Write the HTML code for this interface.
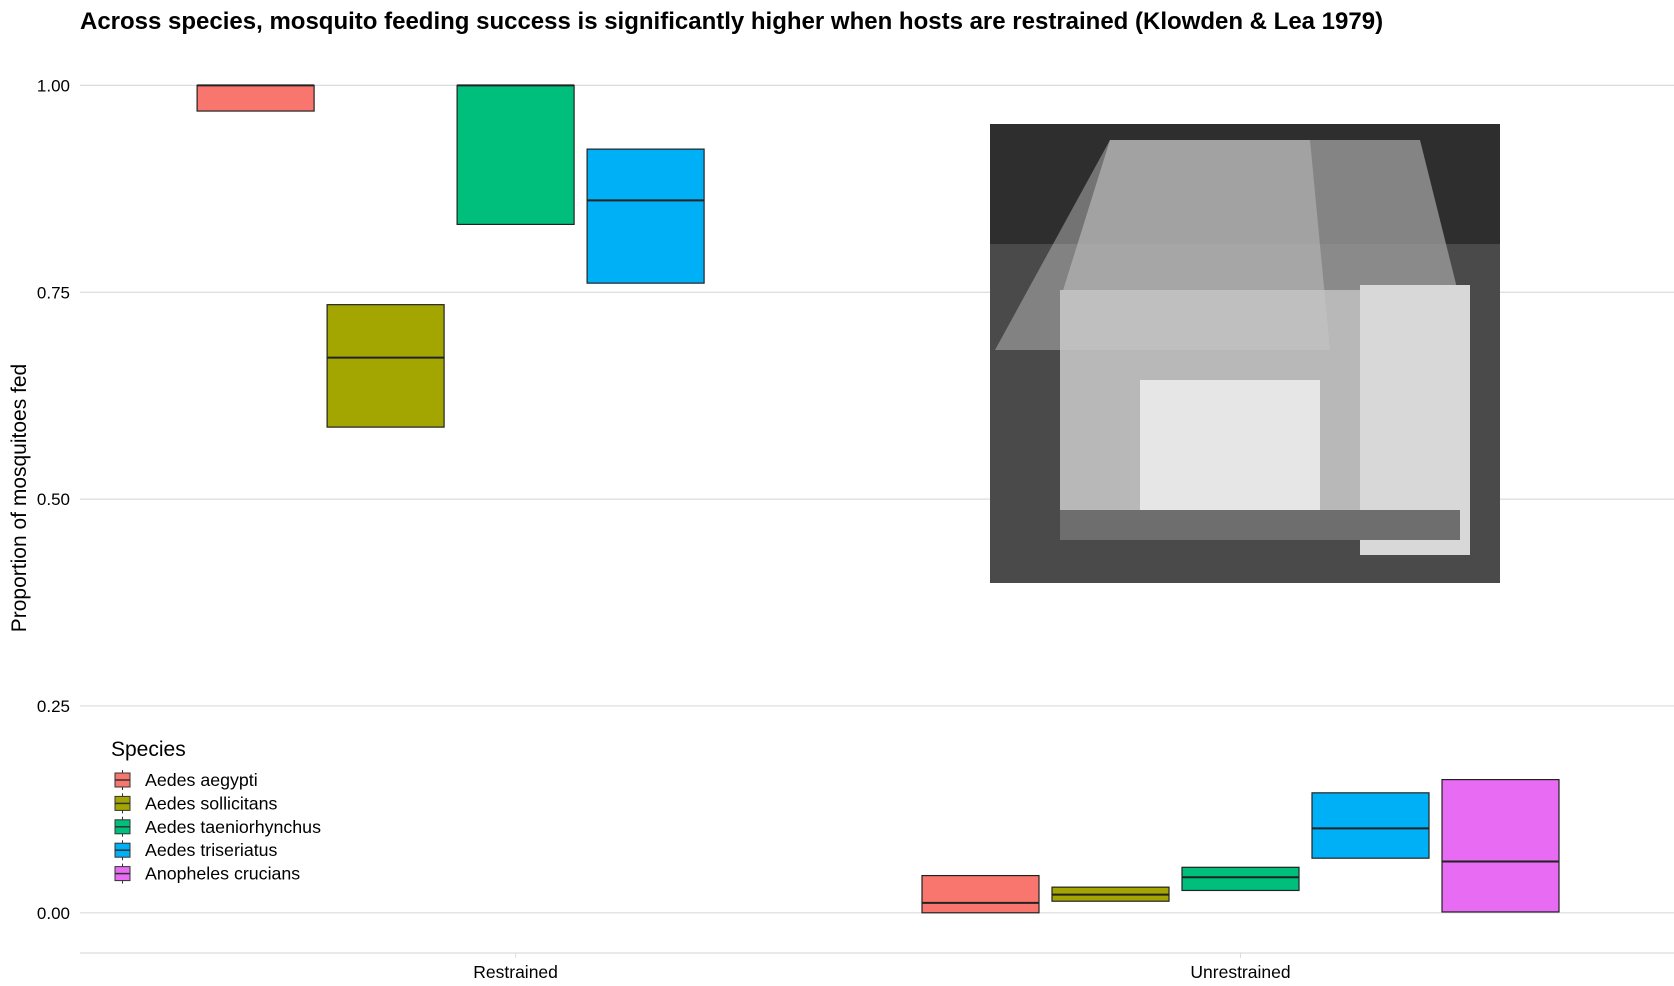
<!DOCTYPE html>
<html><head><meta charset="utf-8"><style>
body{margin:0;background:#fff;}
svg{display:block;font-family:"Liberation Sans",Arial,sans-serif;}
</style></head><body>
<svg id="chart" width="1674" height="986">
<text x="80" y="29" font-size="24" font-weight="bold" fill="#000">Across species, mosquito feeding success is significantly higher when hosts are restrained (Klowden &amp; Lea 1979)</text>
<text transform="translate(26,498) rotate(-90)" text-anchor="middle" font-size="21" fill="#000">Proportion of mosquitoes fed</text>
<g id="grid"></g>
<g id="photo">
<rect x="990" y="124" width="510" height="459" fill="#4a4a4a"/>
<rect x="990" y="124" width="510" height="120" fill="#2e2e2e"/>
<polygon points="1060,300 1110,140 1420,140 1460,300" fill="#9a9a9a" opacity="0.8"/>
<rect x="1060" y="290" width="300" height="250" fill="#b8b8b8"/>
<rect x="1360" y="285" width="110" height="270" fill="#d8d8d8"/>
<rect x="1140" y="380" width="180" height="140" fill="#e6e6e6"/>
<rect x="1060" y="510" width="400" height="30" fill="#6e6e6e"/>
<polygon points="995,350 1110,140 1310,140 1330,350" fill="#c8c8c8" opacity="0.45"/>
</g>
<g id="boxes"></g>
<g id="legend"></g>
</svg>
<script>
const groups=["Restrained","Unrestrained"];
const species=["Aedes aegypti","Aedes sollicitans","Aedes taeniorhynchus","Aedes triseriatus","Anopheles crucians"];
const colors=["#F8766D","#A3A500","#00BF7D","#00B0F6","#E76BF3"];
const boxGroup=[0,0,0,0,1,1,1,1,1];
const boxSpecies=[0,1,2,3,0,1,2,3,4];
const lowerVals=[0.969,0.587,0.832,0.761,0.0,0.014,0.027,0.066,0.001];
const medianVals=[1.0,0.671,1.0,0.861,0.012,0.022,0.043,0.102,0.062];
const upperVals=[1.0,0.735,1.0,0.923,0.045,0.031,0.055,0.145,0.161];
const yTicks=[0,0.25,0.5,0.75,1];
const yTickLabels=["0.00","0.25","0.50","0.75","1.00"];

const NS="http://www.w3.org/2000/svg";
function mk(t,a,p){const e=document.createElementNS(NS,t);for(const k in a)e.setAttribute(k,a[k]);p.appendChild(e);return e;}
const y=v=>912.8-v*827.4;
const gx=[515.6,1240.5];
const slot=130, bw=117;
const x=(g,s)=>gx[g]+(s-2)*slot;
const grid=document.getElementById('grid');
yTicks.forEach((t,i)=>{
  const l=mk('line',{x1:80,x2:1674,y1:y(t),y2:y(t),stroke:'#dcdcdc','stroke-width':1.2},grid);
  
  
  const tx=mk('text',{x:70,y:y(t)+6,'text-anchor':'end','font-size':17,fill:'#000'},grid);
  tx.textContent=yTickLabels[i];
  
  
});
const ax=mk('line',{x1:80,x2:1674,y1:953,y2:953,stroke:'#dcdcdc','stroke-width':1.2},grid);


groups.forEach((g,i)=>{
  mk('line',{x1:gx[i],x2:gx[i],y1:953,y2:958,stroke:'#dcdcdc'},grid);
  const t=mk('text',{x:gx[i],y:978,'text-anchor':'middle','font-size':17.5,fill:'#000'},grid);
  t.textContent=g;
  
  
});
const bx=document.getElementById('boxes');
for(let i=0;i<lowerVals.length;i++){
  const cx=x(boxGroup[i],boxSpecies[i]);
  const r=mk('rect',{x:cx-bw/2,y:y(upperVals[i]),width:bw,height:y(lowerVals[i])-y(upperVals[i]),fill:colors[boxSpecies[i]],stroke:'#222','stroke-width':1.2},bx);
  
  
  const m=mk('line',{x1:cx-bw/2,x2:cx+bw/2,y1:y(medianVals[i]),y2:y(medianVals[i]),stroke:'#222','stroke-width':2},bx);
  
  
}
const lg=document.getElementById('legend');
const lt=mk('text',{x:111,y:756,'font-size':21,fill:'#000'},lg);
lt.textContent="Species";


species.forEach((s,i)=>{
  const cy=780+i*23.4;
  mk('line',{x1:122.5,x2:122.5,y1:cy-10,y2:cy+10,stroke:'#333'},lg);
  const k=mk('rect',{x:115,y:cy-7,width:15,height:14,fill:colors[i],stroke:'#333'},lg);
  
  
  mk('line',{x1:115,x2:130,y1:cy,y2:cy,stroke:'#333','stroke-width':1.5},lg);
  const t=mk('text',{x:145,y:cy+6,'font-size':17.8,fill:'#000'},lg);
  t.textContent=s;
  
  
});
</script>
</body></html>
